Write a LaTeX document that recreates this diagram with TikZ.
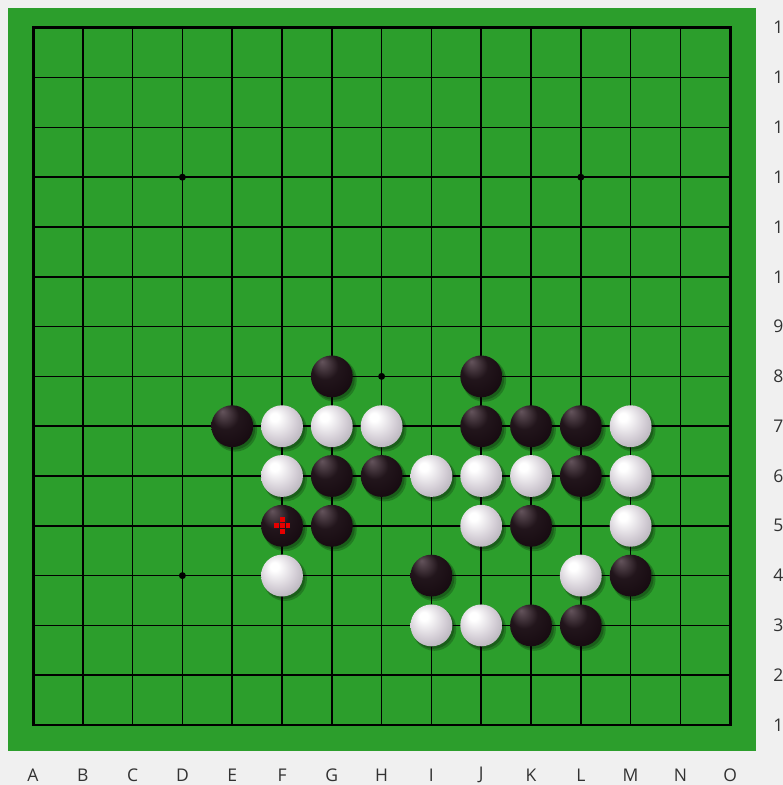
\documentclass[tikz,border=0pt]{standalone}
\usepackage{fontspec}
\setmainfont{Open Sans}
\definecolor{boardgreen}{RGB}{44,158,44}
\definecolor{paper}{RGB}{240,240,240}
\definecolor{labelgray}{RGB}{50,50,50}
\definecolor{stonedark}{RGB}{22,10,16}
\definecolor{stoneglint}{RGB}{100,84,92}
\definecolor{pearlmid}{RGB}{212,206,214}
\definecolor{pearledge}{RGB}{150,148,156}
\pgfdeclareradialshading{whiteball}{\pgfpoint{-10bp}{12bp}}{color(0bp)=(white); color(5bp)=(white); color(22bp)=(pearlmid); color(44bp)=(pearledge); color(50bp)=(pearledge!80!black)}
\pgfdeclareradialshading{blackball}{\pgfpoint{-12bp}{18bp}}{color(0bp)=(stoneglint); color(16bp)=(stonedark!85!stoneglint); color(34bp)=(stonedark); color(50bp)=(stonedark)}
\tikzset{
  gridline/.style={line width=0.85pt},
  frameline/.style={line width=1.7pt},
  whitestone/.style={shading=whiteball},
  blackstone/.style={shading=blackball},
  stoneshadow/.style={fill=black, opacity=0.22},
  collabel/.style={text=labelgray, font=\fontsize{10}{12}\selectfont},
  rowlabel/.style={text=labelgray, anchor=west, inner sep=0pt, font=\fontsize{10}{12}\selectfont}
}
\begin{document}
\begin{tikzpicture}
  \useasboundingbox (-0.663,-1.205) rectangle (15.06,14.558);
  \fill[paper] (-0.663,-1.205) rectangle (15.06,14.558);
  \fill[boardgreen] (-0.502,-0.522) rectangle (14.52,14.40);
  % grid
  \foreach \i in {1,...,13} {
    \draw[gridline] (\i,0) -- (\i,14);
    \draw[gridline] (0,\i) -- (14,\i);
  }
  \draw[frameline] (0,0) rectangle (14,14);
  % star points
  \foreach \x/\y in {3/11, 11/11, 7/7, 3/3}
    \fill (\x,\y) circle (0.07);
  % labels
  \foreach \c [count=\i from 0] in {A,B,C,D,E,F,G,H,I,J,K,L,M,N,O}
    \node[collabel] at (\i,-1.0) {\c};
  \foreach \r in {1,...,15}
    \node[rowlabel] at (14.86,\r-1) {\r};
  % stones
  \def\blacklist{6/7, 9/7, 4/6, 9/6, 10/6, 11/6, 6/5, 7/5, 11/5, 5/4, 6/4, 10/4, 8/3, 12/3, 10/2, 11/2}
  \def\whitelist{5/6, 6/6, 7/6, 12/6, 5/5, 8/5, 9/5, 10/5, 12/5, 9/4, 12/4, 5/3, 11/3, 8/2, 9/2}
  \foreach \x/\y in \blacklist {
    \fill[stoneshadow] (\x+0.06,\y-0.07) circle (0.44);
    \fill[stoneshadow] (\x+0.04,\y-0.05) circle (0.42);
  }
  \foreach \x/\y in \whitelist {
    \fill[stoneshadow] (\x+0.06,\y-0.07) circle (0.44);
    \fill[stoneshadow] (\x+0.04,\y-0.05) circle (0.42);
  }
  \foreach \x/\y in \blacklist
    \shade[blackstone] (\x,\y) circle (0.42);
  \foreach \x/\y in \whitelist
    \shade[whitestone] (\x,\y) circle (0.42);
  % last move mark
  \coordinate (M) at (5,4);
  \foreach \dx/\dy in {0/0, 0/0.12, 0/-0.12, 0.12/0, -0.12/0}
    \fill[red!90!black] ([shift={(\dx-0.05,\dy-0.05)}]M) rectangle ([shift={(\dx+0.05,\dy+0.05)}]M);
\end{tikzpicture}
\end{document}
